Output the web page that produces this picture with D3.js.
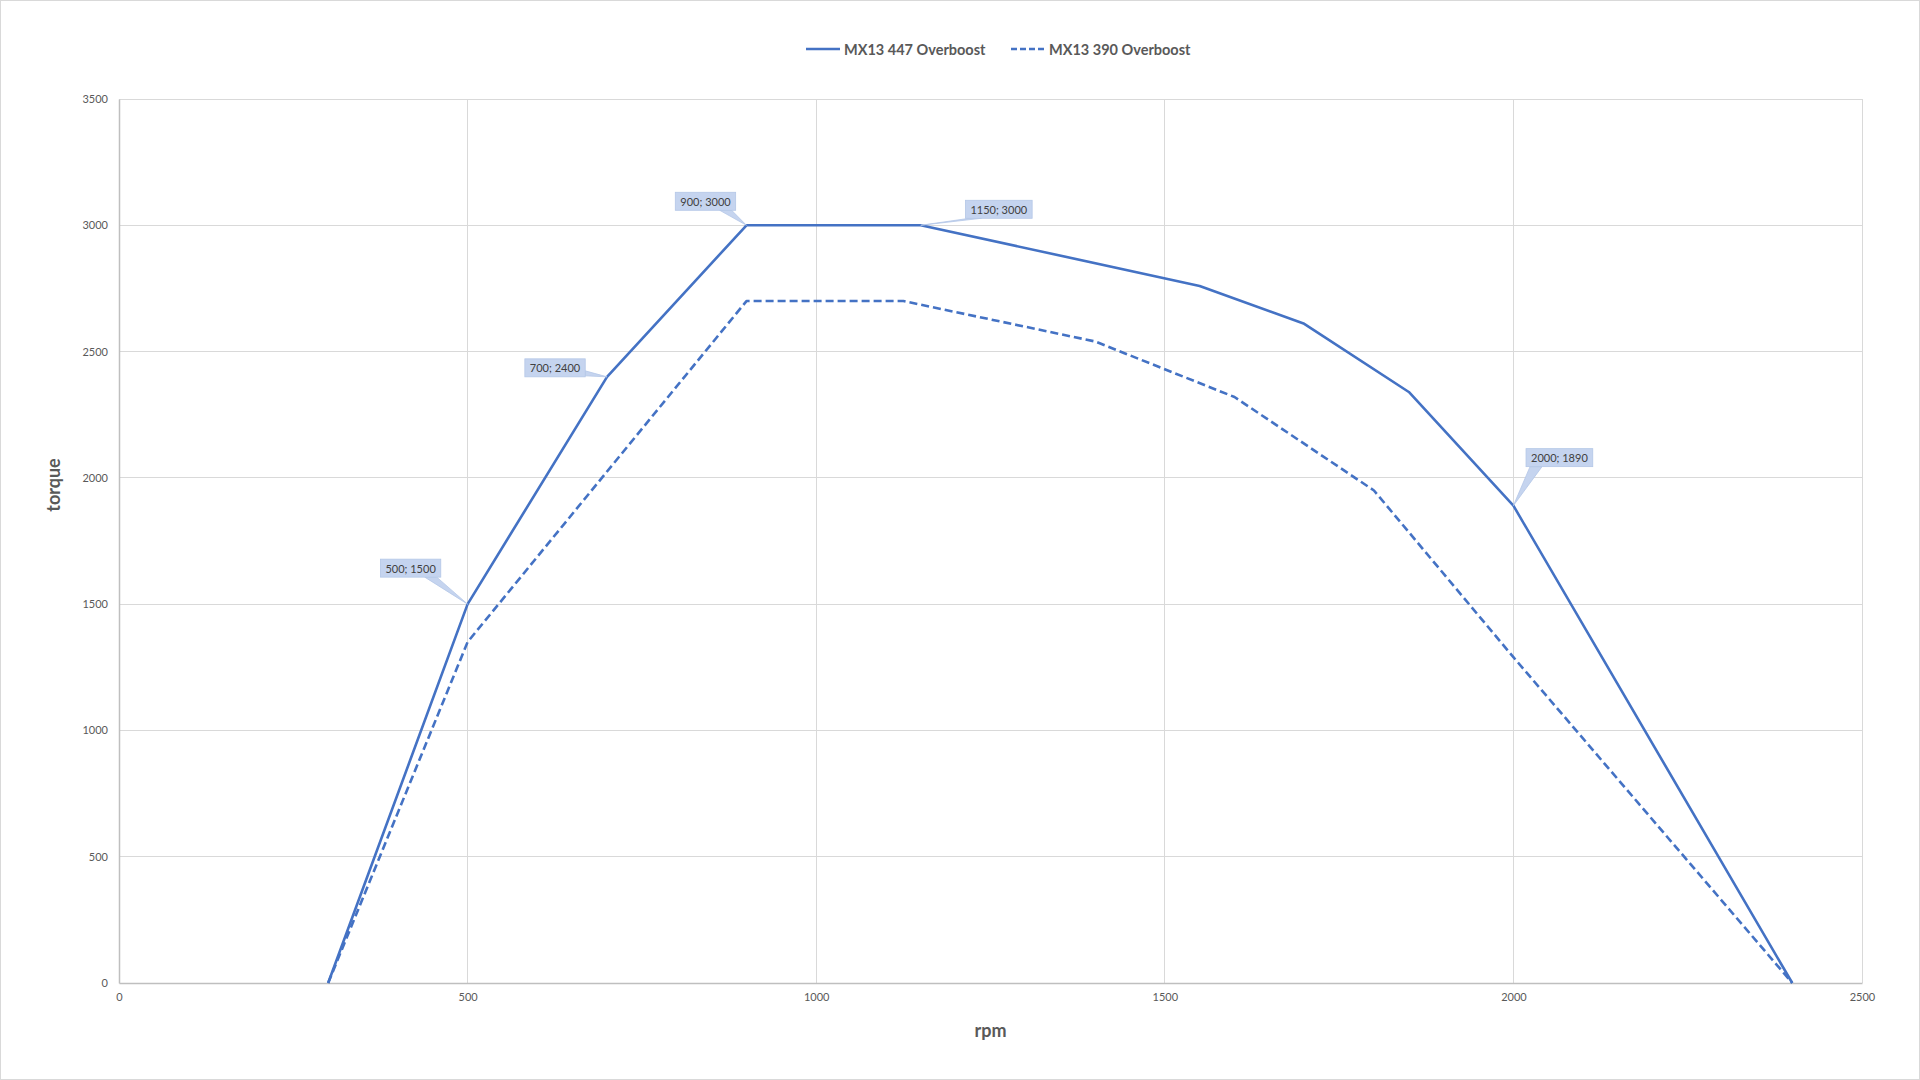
<!DOCTYPE html>
<html>
<head>
<meta charset="utf-8">
<script src="https://cdn.jsdelivr.net/npm/d3@7"></script>
<style>
  html, body { margin: 0; padding: 0; background: #fff; }
  svg { display: block; }
</style>
</head>
<body>
<svg id="chart" width="1920" height="1080"></svg>
<script>
// ---- Data ----
const seriesNames = ["MX13 447 Overboost", "MX13 390 Overboost"];
const rpm447 =    [300, 500, 700, 900, 1150, 1550, 1700, 1850, 2000, 2400];
const torque447 = [0, 1500, 2400, 3000, 3000, 2760, 2610, 2340, 1890, 0];
const rpm390 =    [300, 500, 900, 1125, 1400, 1600, 1800, 2000, 2400];
const torque390 = [0, 1350, 2700, 2700, 2540, 2320, 1950, 1290, 0];
const xTicks = [0, 500, 1000, 1500, 2000, 2500];
const yTicks = [0, 500, 1000, 1500, 2000, 2500, 3000, 3500];
const labelledRpm = [500, 700, 900, 1150, 2000];
// label box offsets (pixels) from the point, styling only
const labelOffsets = {500: [-57, -36], 700: [-52, -9], 900: [-41, -24], 1150: [78, -16], 2000: [46, -48]};

const svg = d3.select("#chart");
const W = 1920, H = 1080;
const margin = {left: 119, right: 1920 - 1862, top: 99, bottom: 1080 - 983};

svg.append("rect").attr("x", 0.5).attr("y", 0.5).attr("width", W - 1).attr("height", H - 1)
  .attr("fill", "#fff").attr("stroke", "#d9d9d9");

const x = d3.scaleLinear().domain([0, 2500]).range([margin.left, W - margin.right]);
const y = d3.scaleLinear().domain([0, 3500]).range([H - margin.bottom, margin.top]);

const font = "Lato, 'Open Sans', sans-serif";

// gridlines
const g = svg.append("g");
g.selectAll(".vg").data(xTicks.slice(1)).join("line")
  .attr("x1", d => x(d)).attr("x2", d => x(d))
  .attr("y1", y(0)).attr("y2", y(3500))
  .attr("stroke", "#d9d9d9").attr("stroke-width", 1).attr("shape-rendering", "crispEdges");
g.selectAll(".hg").data(yTicks.slice(1)).join("line")
  .attr("x1", x(0)).attr("x2", x(2500))
  .attr("y1", d => y(d)).attr("y2", d => y(d))
  .attr("stroke", "#d9d9d9").attr("stroke-width", 1).attr("shape-rendering", "crispEdges");

// axes
const xAxis = d3.axisBottom(x).tickValues(xTicks).tickSize(0).tickPadding(10).tickFormat(d3.format("d"));
const yAxis = d3.axisLeft(y).tickValues(yTicks).tickSize(0).tickPadding(11).tickFormat(d3.format("d"));
const xa = svg.append("g").attr("transform", `translate(0,${y(0)})`).call(xAxis);
const ya = svg.append("g").attr("transform", `translate(${x(0)},0)`).call(yAxis);
[xa, ya].forEach(a => {
  a.select(".domain").attr("stroke", "#bfbfbf").attr("stroke-width", 1.5);
  a.selectAll("text").attr("fill", "#595959").attr("font-size", "11px").attr("font-family", font);
});

// axis titles
svg.append("text").attr("x", (x(0) + x(2500)) / 2).attr("y", 1037)
  .attr("text-anchor", "middle").attr("font-family", font).attr("font-weight", "bold")
  .attr("font-size", "18px").attr("fill", "#595959").text("rpm");
svg.append("text").attr("transform", `translate(60,485) rotate(-90)`)
  .attr("text-anchor", "middle").attr("font-family", font).attr("font-weight", "bold")
  .attr("font-size", "18px").attr("fill", "#595959").text("torque");

// lines
const color = "#4472c4";
const line = d3.line().x(d => x(d[0])).y(d => y(d[1]));
const data447 = rpm447.map((r, i) => [r, torque447[i]]);
const data390 = rpm390.map((r, i) => [r, torque390[i]]);
svg.append("path").datum(data390).attr("d", line).attr("fill", "none")
  .attr("stroke", color).attr("stroke-width", 2.6).attr("stroke-dasharray", "8,4").attr("stroke-linejoin", "round");
svg.append("path").datum(data447).attr("d", line).attr("fill", "none")
  .attr("stroke", color).attr("stroke-width", 2.6).attr("stroke-linejoin", "round");

// callouts
const lab = svg.append("g");
labelledRpm.forEach(r => {
  const i = rpm447.indexOf(r);
  const px = x(r), py = y(torque447[i]);
  const [dx, dy] = labelOffsets[r];
  const cx = px + dx, cy = py + dy;
  const txt = `${r}; ${torque447[i]}`;
  const t = lab.append("text").attr("font-family", font).attr("font-size", "11px")
    .attr("fill", "#404040").attr("text-anchor", "middle").attr("dominant-baseline", "central")
    .attr("x", cx).attr("y", cy).text(txt);
  const bw = t.node().getComputedTextLength() + 10, bh = 18;
  const bx = cx - bw / 2, by = cy - bh / 2;
  let base;
  if (Math.abs(dy) > bh / 2 + 2) {
    const ey = dy < 0 ? by + bh : by;
    if (dx < 0) base = [[bx + bw - 16, ey], [bx + bw - 4, ey]];
    else base = [[bx + 4, ey], [bx + 16, ey]];
  } else {
    const ex = dx < 0 ? bx + bw : bx;
    base = [[ex, by + bh - 6], [ex, by + bh - 1]];
  }
  lab.insert("path", "text")
    .attr("d", `M${base[0][0]},${base[0][1]}L${px},${py}L${base[1][0]},${base[1][1]}Z`)
    .attr("fill", "#c5d4ef").attr("stroke", "#b4c7e7").attr("stroke-width", 0.8);
  lab.insert("rect", "text").attr("x", bx).attr("y", by).attr("width", bw).attr("height", bh)
    .attr("fill", "#c5d4ef").attr("stroke", "#b4c7e7").attr("stroke-width", 0.8);
});

// legend
const leg = svg.append("g").attr("font-family", font).attr("font-weight", "bold")
  .attr("font-size", "14.5px").attr("fill", "#595959");
const legItems = [
  {name: seriesNames[0], x0: 806, dash: null},
  {name: seriesNames[1], x0: 1011, dash: "6,3"}
];
legItems.forEach(it => {
  leg.append("line").attr("x1", it.x0).attr("x2", it.x0 + 34).attr("y1", 49).attr("y2", 49)
    .attr("stroke", color).attr("stroke-width", 2.6).attr("stroke-dasharray", it.dash);
  leg.append("text").attr("x", it.x0 + 38).attr("y", 49).attr("dominant-baseline", "central").text(it.name);
});
</script>
</body>
</html>
